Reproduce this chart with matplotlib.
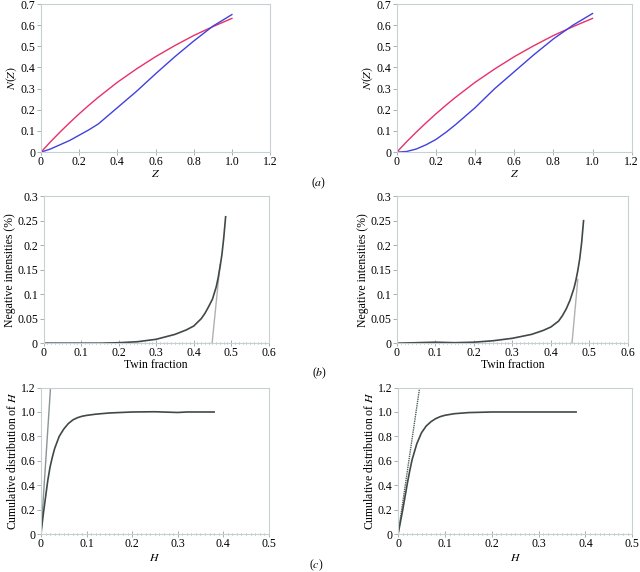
import matplotlib
matplotlib.use('Agg')
import matplotlib.pyplot as plt
from matplotlib.ticker import MultipleLocator

plt.rcParams['font.family'] = 'serif'
plt.rcParams['font.serif'] = ['Liberation Serif', 'DejaVu Serif']
plt.rcParams['mathtext.fontset'] = 'stix'
plt.rcParams['font.size'] = 8.5

# (a) cumulative intensity distribution N(Z)
z = [0, 0.05, 0.1, 0.15, 0.2, 0.25, 0.3, 0.4, 0.5, 0.6, 0.7, 0.8, 0.9, 1.0]
nz_acentric = [0, 0.049, 0.095, 0.139, 0.181, 0.221, 0.259, 0.33, 0.393, 0.451, 0.503, 0.551, 0.593, 0.632]
nz_left = [0, 0.015, 0.035, 0.055, 0.08, 0.105, 0.133, 0.21, 0.287, 0.37, 0.45, 0.525, 0.595, 0.65]
nz_right = [0, 0.003, 0.015, 0.035, 0.06, 0.093, 0.13, 0.21, 0.3, 0.38, 0.46, 0.535, 0.6, 0.655]

# (b) negative intensities vs twin fraction
tf = [0, 0.1, 0.15, 0.2, 0.25, 0.3, 0.35, 0.38, 0.4, 0.42, 0.43, 0.44, 0.45,
      0.46, 0.465, 0.47, 0.475, 0.48, 0.485]
neg_left = [0, 0, 0, 0.001, 0.003, 0.008, 0.018, 0.027, 0.035, 0.05, 0.061, 0.075, 0.09,
            0.115, 0.133, 0.155, 0.18, 0.215, 0.258]
neg_right = [0, 0.002, 0.001, 0.002, 0.005, 0.01, 0.018, 0.026, 0.033, 0.045, 0.056, 0.07, 0.088,
             0.112, 0.128, 0.148, 0.172, 0.205, 0.25]
tan_left_x = [0.449, 0.47]
tan_left_y = [0, 0.16]
tan_right_x = [0.455, 0.47]
tan_right_y = [0, 0.13]

# (c) cumulative distribution of H
h = [0, 0.005, 0.01, 0.015, 0.02, 0.025, 0.03, 0.04, 0.05, 0.06, 0.07, 0.08, 0.09, 0.1,
     0.12, 0.15, 0.2, 0.25, 0.3, 0.32, 0.38]
ch_left = [0, 0.16, 0.3, 0.44, 0.55, 0.63, 0.7, 0.8, 0.86, 0.905, 0.935, 0.953, 0.965, 0.972,
           0.982, 0.992, 1.0, 1.002, 0.996, 1.0, 1.0]
ch_right = [0, 0.1, 0.2, 0.31, 0.42, 0.52, 0.61, 0.74, 0.83, 0.885, 0.92, 0.945, 0.962, 0.973,
            0.986, 0.995, 1.0, 1.0, 1.0, 1.0, 1.0]
lin_left_x = [0, 0.021]
lin_right_x = [0, 0.046]
lin_y = [0, 1.2]

xt_a = ['0', '0.2', '0.4', '0.6', '0.8', '1.0', '1.2']
yt_a = ['0', '0.1', '0.2', '0.3', '0.4', '0.5', '0.6', '0.7']
xt_b = ['0', '0.1', '0.2', '0.3', '0.4', '0.5', '0.6']
yt_b = ['0', '0.05', '0.1', '0.15', '0.2', '0.25', '0.3']
xt_c = ['0', '0.1', '0.2', '0.3', '0.4', '0.5']
yt_c = ['0', '0.2', '0.4', '0.6', '0.8', '1.0', '1.2']

fig = plt.figure(figsize=(6.4, 5.72), dpi=100)

spine_col = '#c8d0d4'

def style(ax, xlabels, ylabels, xminor=None):
    xt = [float(s) for s in xlabels]
    yt = [float(s) for s in ylabels]
    ax.set_xlim(0, xt[-1])
    ax.set_ylim(0, yt[-1])
    ax.set_xticks(xt, xlabels)
    ax.set_yticks(yt, ylabels)
    if xminor:
        ax.xaxis.set_minor_locator(MultipleLocator(xminor))
        ax.tick_params(axis='x', which='minor', direction='inout', length=2, color='#9aa4a8', width=0.6)
    for s in ax.spines.values():
        s.set_color(spine_col)
        s.set_linewidth(0.8)
    ax.tick_params(axis='both', which='major', direction='inout', length=4, color='#9aa4a8', width=0.6, pad=1)
    ax.tick_params(axis='y', direction='out', length=3)

# row a
for i, blue in enumerate([nz_left, nz_right]):
    pos = [0.064, 0.734, 0.358, 0.259] if i == 0 else [0.620, 0.734, 0.367, 0.259]
    ax = fig.add_axes(pos)
    ax.plot(z, nz_acentric, color='#e8306a', lw=1.0)
    ax.plot(z, blue, color='#4040e0', lw=1.0)
    style(ax, xt_a, yt_a)
    ax.set_xlabel('$Z$', labelpad=0)
    ax.set_ylabel('$N(Z)$', labelpad=1)

# row b
for i, (neg, tx, ty) in enumerate([(neg_left, tan_left_x, tan_left_y), (neg_right, tan_right_x, tan_right_y)]):
    pos = [0.068, 0.400, 0.352, 0.257] if i == 0 else [0.620, 0.400, 0.361, 0.257]
    ax = fig.add_axes(pos)
    ax.plot(tx, ty, color='#b0b0b0', lw=1.0)
    ax.plot(tf, neg, color='#404848', lw=1.2)
    style(ax, xt_b, yt_b, xminor=0.01)
    ax.set_xlabel('Twin fraction', labelpad=0)
    ax.set_ylabel('Negative intensities (%)', labelpad=1)

# row c
for i, (ch, lx) in enumerate([(ch_left, lin_left_x), (ch_right, lin_right_x)]):
    pos = [0.064, 0.0664, 0.356, 0.256] if i == 0 else [0.622, 0.0664, 0.366, 0.256]
    ax = fig.add_axes(pos)
    if i == 0:
        ax.plot(lx, lin_y, color='#8a9494', lw=1.0)
    else:
        ax.plot(lx, lin_y, color='#506060', lw=1.0, ls=(0, (1, 0.6)))
    ax.plot(h, ch, color='#404848', lw=1.2)
    style(ax, xt_c, yt_c, xminor=0.01)
    ax.set_xlabel('$H$', labelpad=1)
    ax.set_ylabel('Cumulative distribution of $H$', labelpad=1)

fig.text(0.497, 0.680, '($a$)', ha='center', va='center', fontsize=8.5)
fig.text(0.500, 0.348, '($b$)', ha='center', va='center', fontsize=8.5)
fig.text(0.494, 0.012, '($c$)', ha='center', va='center', fontsize=8.5)

fig.savefig('out.png', dpi=100)
